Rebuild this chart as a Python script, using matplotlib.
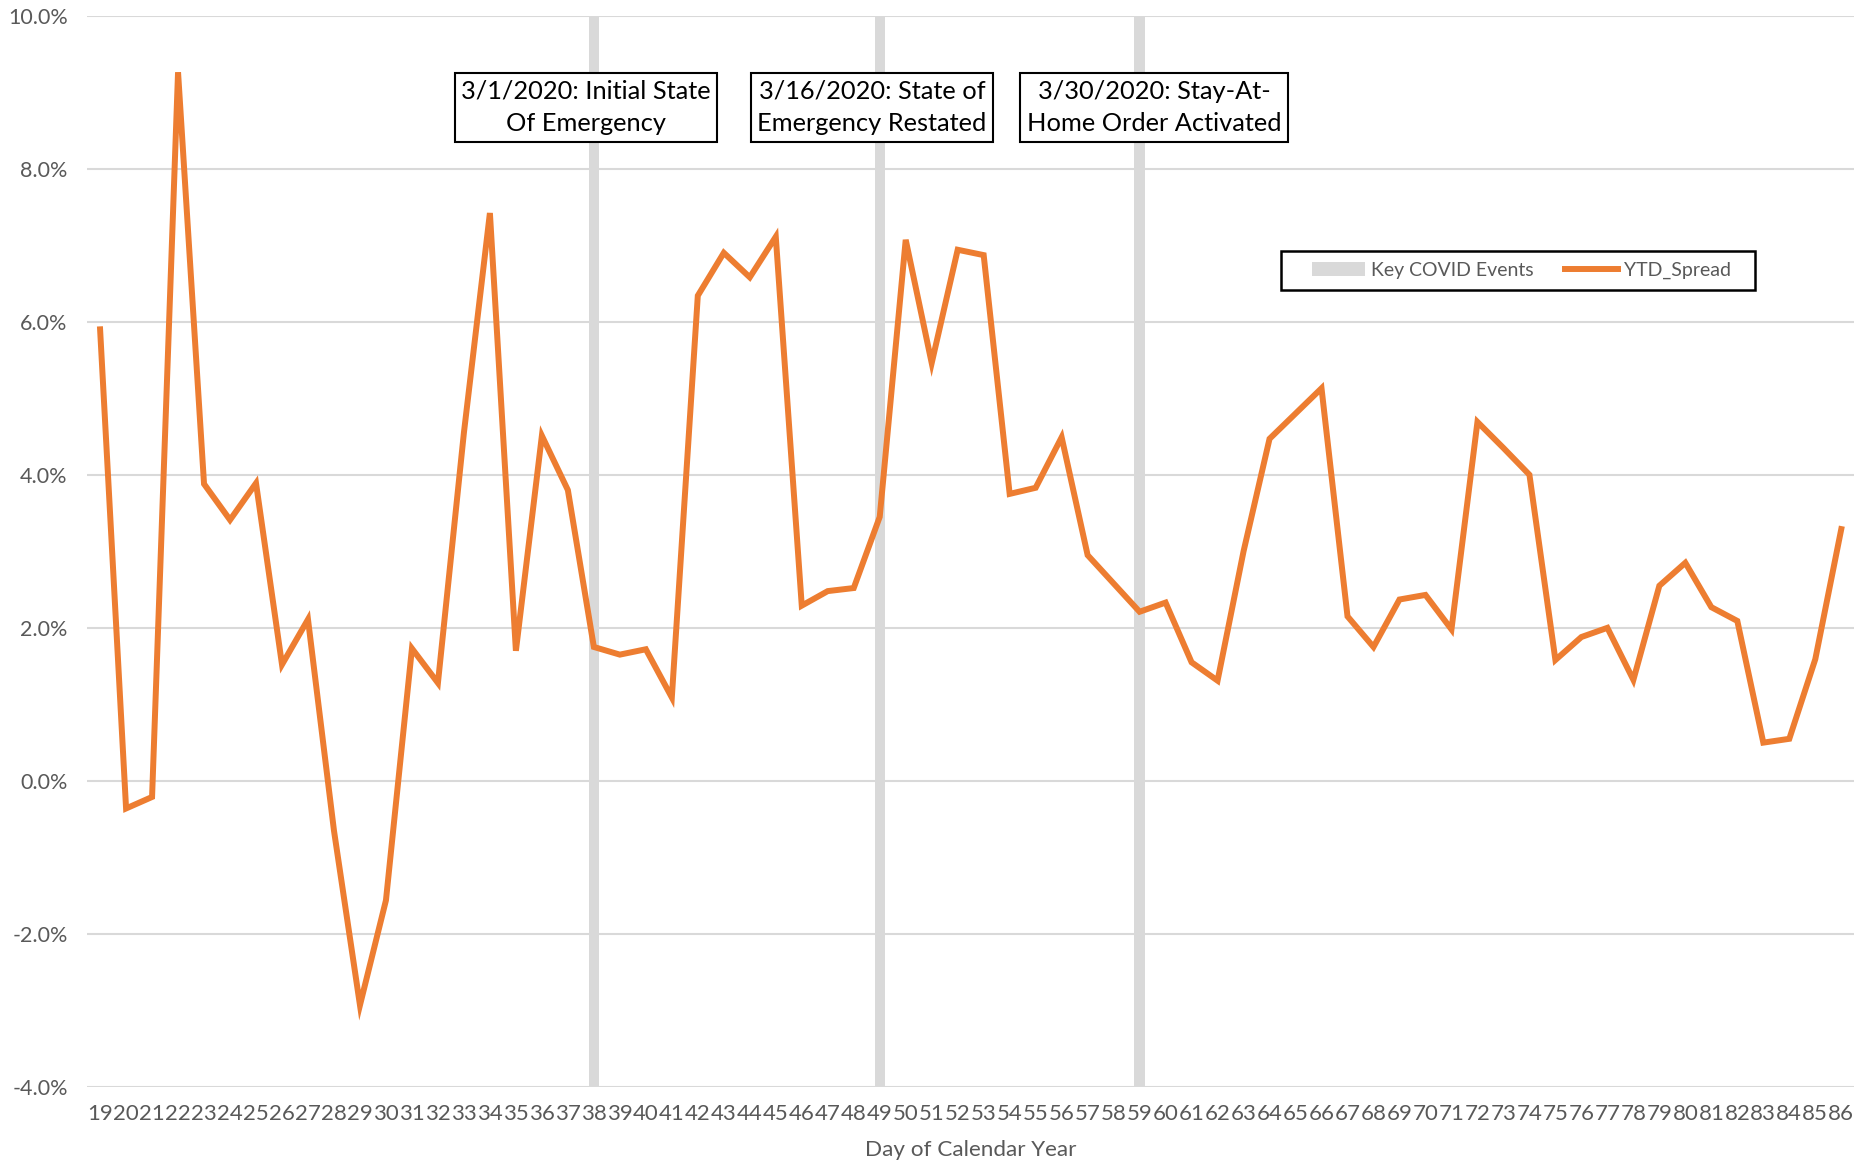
import numpy as np
import matplotlib
matplotlib.use("Agg")
import matplotlib.pyplot as plt
from matplotlib.ticker import FuncFormatter, MultipleLocator
from matplotlib.patches import Patch, Rectangle
from matplotlib.lines import Line2D

# day of calendar year and YTD spread (%)
days = list(range(19, 87))
ytd_spread = [5.90, -0.36, -0.21, 9.26, 3.88, 3.41, 3.89, 1.52, 2.11, -0.65,
              -2.93, -1.56, 1.73, 1.28, 4.55, 7.42, 1.70, 4.51, 3.80, 1.75,
              1.65, 1.72, 1.09, 6.34, 6.90, 6.58, 7.11, 2.29, 2.48, 2.52,
              3.45, 7.07, 5.46, 6.94, 6.87, 3.75, 3.83, 4.49, 2.95, 2.58,
              2.21, 2.33, 1.55, 1.31, 3.00, 4.47, 4.80, 5.13, 2.15, 1.75,
              2.37, 2.43, 1.98, 4.69, 4.35, 4.00, 1.58, 1.88, 2.00, 1.32,
              2.55, 2.85, 2.27, 2.09, 0.50, 0.55, 1.59, 3.29]

event_days = [38, 49, 59]
event_labels = ["3/1/2020: Initial State\nOf Emergency",
                "3/16/2020: State of\nEmergency Restated",
                "3/30/2020: Stay-At-\nHome Order Activated"]
label_x = [37.7, 48.7, 59.55]

plt.rcParams['font.family'] = ['Lato', 'DejaVu Sans']

orange = '#ED7D31'
grey = '#D9D9D9'
txt_grey = '#595959'

fig = plt.figure(figsize=(18.73, 11.61), dpi=100)
ax = fig.add_axes([0.0465, 0.0637, 0.9435, 0.9229])

# grey event bars
ax.bar(event_days, 14, bottom=-4, width=0.4, color=grey, zorder=1)
ax.plot(days, ytd_spread, color=orange, lw=4.3, zorder=3,
        solid_joinstyle='miter')

for x, lab in zip(label_x, event_labels):
    ax.text(x, 8.8, lab, ha='center', va='center', fontsize=18.3,
            color='black', linespacing=1.5, zorder=5,
            bbox=dict(boxstyle='square,pad=0.25', fc='white', ec='black', lw=1.5))

ax.set_xlim(days[0] - 0.5, days[-1] + 0.5)
ax.set_ylim(-4, 10)
ax.yaxis.set_major_locator(MultipleLocator(2))
ax.yaxis.set_major_formatter(FuncFormatter(lambda v, p: "%.1f%%" % v))
ax.set_xticks(days)
ax.set_xticklabels([str(d) for d in days])
ax.grid(axis='y', color=grey, lw=1.5, zorder=0)
ax.set_axisbelow(True)
for s in ax.spines.values():
    s.set_visible(False)
ax.tick_params(axis='both', length=0, labelcolor=txt_grey)
ax.tick_params(axis='x', pad=12, labelsize=16)
ax.tick_params(axis='y', pad=14, labelsize=15.5)
ax.set_xlabel("Day of Calendar Year", fontsize=16.2, color=txt_grey, labelpad=12)

# legend with hand-drawn frame
fig.patches.append(Rectangle((0.6837, 0.750), 0.2533, 0.034,
                             transform=fig.transFigure, fill=False,
                             ec='black', lw=1.8, zorder=6))
handles = [Patch(facecolor=grey, edgecolor='none'),
           Line2D([0], [0], color=orange, lw=4.3)]
leg = fig.legend(handles, ["Key COVID Events", "YTD_Spread"], loc='center',
                 bbox_to_anchor=(0.8125, 0.7669), ncol=2, fontsize=14,
                 frameon=False, handlelength=2.7,
                 handletextpad=0.35, columnspacing=1.6)
for t in leg.get_texts():
    t.set_color(txt_grey)

fig.savefig("out.png", dpi=100)
